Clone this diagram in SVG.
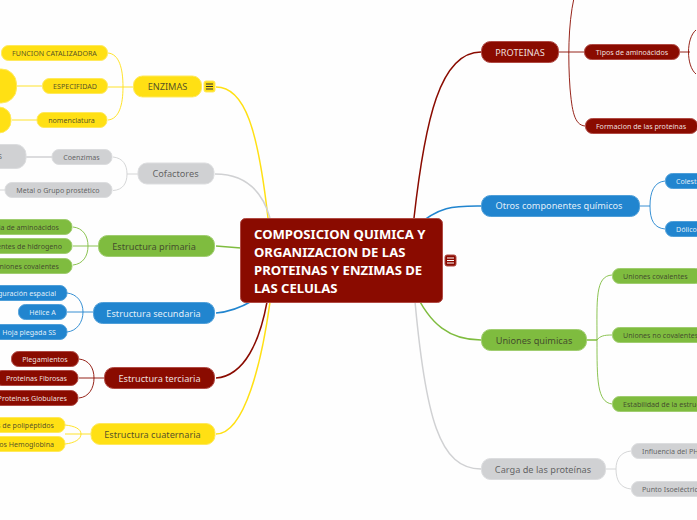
<svg xmlns="http://www.w3.org/2000/svg" width="697" height="520" viewBox="0 0 697 520">
<style>
text{font-family:"Noto Sans","Open Sans",sans-serif;text-anchor:middle}
.m{font-size:9.200px}.s{font-size:7.100px}
.r{fill:#8a0b00;stroke:#b04a44}.b{fill:#2185cf;stroke:#4f9fd9}.g{fill:#7fbc3f;stroke:#a0cd70}.y{fill:#ffe014;stroke:#ffe95c}.k{fill:#d0d1d3;stroke:#dcdddf}
.tw{fill:#fff;fill-opacity:.88}.td{fill:#3a3a2a;fill-opacity:.88}.tg{fill:#555;fill-opacity:.9}
.st{text-anchor:start}.en{text-anchor:end}
.rt{font-size:13.100px;font-weight:700;fill:#fff;text-anchor:start}
.lr,.lb,.lg,.ly,.lk{fill:none}
.lr{stroke:#8a0b00}.lb{stroke:#2185cf}.lg{stroke:#7fbc3f}.ly{stroke:#ffe014}.lk{stroke:#d0d1d3}
.w1{stroke-width:.9}.w2{stroke-width:1.5}
.bar{stroke:#333;stroke-width:1}
</style>
<rect width="697" height="520" fill="#fefefe"/>
<g id="connectors">
<path class="lr w2" d="M414 218C425 120 440 52 481 52"/>
<path class="lb w2" d="M414 228C440 205 455 206 481 206"/>
<path class="lg w2" d="M414 290C430 325 450 340 481 340"/>
<path class="lk w2" d="M414 290C425 420 440 469 481 469"/>
<path class="ly w2" d="M216 87C245 87 258 130 268 218"/>
<path class="lk w2" d="M215 174C245 174 262 190 270 218"/>
<path class="lg w2" d="M216 246L241 248"/>
<path class="lb w2" d="M216 313C228 312 240 308 252 301"/>
<path class="lr w2" d="M216 378C245 376 260 340 267 302"/>
<path class="ly w2" d="M216 434C245 434 262 360 270 302"/>
<path class="lr w1" d="M559 52H585M574 -2C568 25 568 60 570 88C572 110 574 125 585 126"/>
<path class="lr w1" d="M680 52H690M696 30C686 38 686 66 696 74"/>
<path class="lb w1" d="M640 206H650M665 181C654 182 650 192 650 206C650 220 654 228 665 229"/>
<path class="lg w2" d="M587 340H597"/>
<path class="lg w1" d="M612 275C595 276 597 300 597 340C597 380 597 402 612 404M597 340C600 336 604 335 612 335"/>
<path class="lk w1" d="M606 469H616M631 451C620 452 616 460 616 469C616 480 620 488 631 489"/>
<path class="ly w1" d="M108 53C119 54 123 68 123 87C123 105 119 119 108 120M108 87H134"/>
<path class="ly w1" d="M17 86H42M12 120H37"/>
<path class="lk w1" d="M113 157C123 158 127 165 127 174C127 183 123 190 113 190.500M127 174H138"/>
<path class="lk w2" d="M26 157H52"/>
<path class="lk w1" d="M0 190H5"/>
<path class="lg w1" d="M73 227C83 228 88 236 88 246C88 256 83 264 73 265M73 246H98"/>
<path class="lb w1" d="M67 293C77 294 83 302 83 312C83 322 77 331 67 332M67 312H93"/>
<path class="lr w1" d="M79 359C89 360 94 368 94 378C94 388 89 397 79 398M79 378H104"/>
<path class="ly w1" d="M65 425C75 426 81 429 81 434C81 439 75 443 65 444M65 434H91"/>
</g>
<g id="root"><rect class="r" x="240.500" y="218.500" width="202" height="84" rx="5"/>
<text class="rt" x="254" y="239">COMPOSICION QUIMICA Y</text>
<text class="rt" x="254" y="257">ORGANIZACION DE LAS</text>
<text class="rt" x="254" y="275">PROTEINAS Y ENZIMAS DE</text>
<text class="rt" x="254" y="293">LAS CELULAS</text>
<rect class="r" x="445" y="255" width="11" height="11" rx="2"/><path d="M447 258H454M447 260.500H454M447 263H454" stroke="#fff"/></g>
<g id="n-proteinas"><rect class="r" x="481.500" y="41.500" width="77" height="21" rx="9"/><text class="m tw" x="520" y="55.500">PROTEINAS</text></g>
<g id="n-tipos"><rect class="r" x="584.500" y="44.500" width="95" height="15" rx="7"/><text class="s tw" x="632" y="54.800">Tipos de aminoácidos</text></g>
<g id="n-formacion"><rect class="r" x="585.500" y="118.500" width="112" height="15" rx="7"/><text class="s tw" x="641" y="128.800">Formacion de las proteínas</text></g>
<g id="n-otros"><rect class="b" x="481.500" y="195.500" width="158" height="21" rx="9"/><text class="m tw" x="559" y="209">Otros componentes químicos</text></g>
<g id="n-colest"><rect class="b" x="665.500" y="173.500" width="45" height="15" rx="7"/><text class="s tw st" x="676" y="183.800">Colesterol</text></g>
<g id="n-dolicol"><rect class="b" x="665.500" y="221.500" width="45" height="15" rx="7"/><text class="s tw st" x="676" y="231.800">Dólicol</text></g>
<g id="n-uniones"><rect class="g" x="481.500" y="329.500" width="105" height="21" rx="9"/><text class="m td" x="534" y="343.500">Uniones quimicas</text></g>
<g id="n-ucov"><rect class="g" x="612.500" y="268.500" width="90" height="15" rx="7"/><text class="s td st" x="623" y="278.800">Uniones covalentes</text></g>
<g id="n-unocov"><rect class="g" x="612.500" y="327.500" width="100" height="15" rx="7"/><text class="s td st" x="623" y="337.800">Uniones no covalentes</text></g>
<g id="n-estab"><rect class="g" x="612.500" y="396.500" width="100" height="15" rx="7"/><text class="s td st" x="623" y="406.800">Estabilidad de la estructura</text></g>
<g id="n-carga"><rect class="k" x="481.500" y="458.500" width="124" height="21" rx="9"/><text class="m tg" x="543" y="472.500">Carga de las proteínas</text></g>
<g id="n-influ"><rect class="k" x="631.500" y="443.500" width="80" height="15" rx="7"/><text class="s tg st" x="642" y="453.800">Influencia del PH</text></g>
<g id="n-punto"><rect class="k" x="631.500" y="481.500" width="80" height="15" rx="7"/><text class="s tg st" x="642" y="491.800">Punto Isoeléctrico</text></g>
<g id="n-enzimas"><rect class="y" x="133.500" y="76" width="68" height="21" rx="9"/><text class="m td" x="167.500" y="90">ENZIMAS</text>
<rect class="y" x="204" y="81" width="11" height="11" rx="2"/><path class="bar" d="M206 84H213M206 86.500H213M206 89H213"/></g>
<g id="n-func"><rect class="y" x="1.500" y="45.500" width="106" height="15" rx="7"/><text class="s td" x="54.500" y="55.800">FUNCION CATALIZADORA</text></g>
<g id="n-espec"><rect class="y" x="42.500" y="78.500" width="65" height="15" rx="7"/><text class="s td" x="75" y="88.800">ESPECIFIDAD</text></g>
<g id="n-nomen"><rect class="y" x="37" y="112.500" width="70" height="15" rx="7"/><text class="s td" x="71.500" y="122.800">nomenclatura</text></g>
<g id="n-y1"><rect class="y" x="-40" y="69" width="56.500" height="34" rx="15"/></g>
<g id="n-y2"><rect class="y" x="-30" y="107" width="41" height="26" rx="12"/></g>
<g id="n-cof"><rect class="k" x="138" y="163" width="76" height="21" rx="9"/><text class="m tg" x="175.500" y="177">Cofactores</text></g>
<g id="n-coenz"><rect class="k" x="52" y="149.500" width="60" height="15" rx="7"/><text class="s tg" x="81.500" y="159.800">Coenzimas</text></g>
<g id="n-metal"><rect class="k" x="5" y="182.500" width="107" height="15" rx="7"/><text class="s tg" x="58" y="192.800">Metal o Grupo prostético</text></g>
<g id="n-k1"><rect class="k" x="-40" y="144.500" width="66" height="24" rx="10"/><text class="s tg" x="0" y="159">S</text></g>
<g id="n-prim"><rect class="g" x="98.500" y="235.500" width="116" height="21" rx="9"/><text class="m td" x="154" y="250">Estructura primaria</text></g>
<g id="n-p1"><rect class="g" x="-30" y="219.500" width="102" height="15" rx="7"/><text class="s td en" x="59" y="229.800">Secuencia de aminoácidos</text></g>
<g id="n-p2"><rect class="g" x="-30" y="238.500" width="102" height="15" rx="7"/><text class="s td en" x="62" y="248.800">Puentes de hidrogeno</text></g>
<g id="n-p3"><rect class="g" x="-30" y="258.500" width="102" height="15" rx="7"/><text class="s td en" x="59" y="268.800">Uniones covalentes</text></g>
<g id="n-sec"><rect class="b" x="93.500" y="302.500" width="121" height="21" rx="9"/><text class="m tw" x="153.500" y="316.500">Estructura secundaria</text></g>
<g id="n-s1"><rect class="b" x="-30" y="285.500" width="97" height="15" rx="7"/><text class="s tw en" x="56" y="295.800">Configuración espacial</text></g>
<g id="n-s2"><rect class="b" x="18.500" y="304.500" width="48" height="15" rx="7"/><text class="s tw" x="42.500" y="314.800">Hélice A</text></g>
<g id="n-s3"><rect class="b" x="-10" y="324.500" width="77" height="15" rx="7"/><text class="s tw en" x="56" y="334.800">Hoja plegada SS</text></g>
<g id="n-ter"><rect class="r" x="104.500" y="367.500" width="110" height="21" rx="9"/><text class="m tw" x="159.500" y="382">Estructura terciaria</text></g>
<g id="n-t1"><rect class="r" x="11.500" y="351.500" width="67" height="15" rx="7"/><text class="s tw" x="45" y="361.800">Plegamientos</text></g>
<g id="n-t2"><rect class="r" x="-5" y="370.500" width="83" height="15" rx="7"/><text class="s tw en" x="67" y="380.800">Proteinas Fibrosas</text></g>
<g id="n-t3"><rect class="r" x="-15" y="390.500" width="93" height="15" rx="7"/><text class="s tw en" x="67" y="400.800">Proteinas Globulares</text></g>
<g id="n-cua"><rect class="y" x="91" y="423.500" width="124" height="21" rx="9"/><text class="m td" x="152.500" y="438">Estructura cuaternaria</text></g>
<g id="n-c1"><rect class="y" x="-30" y="417.500" width="95" height="15" rx="7"/><text class="s td en" x="54" y="427.800">Cadenas de polipéptidos</text></g>
<g id="n-c2"><rect class="y" x="-30" y="436.500" width="95" height="15" rx="7"/><text class="s td en" x="54" y="446.800">Tetrámeros Hemoglobina</text></g>
</svg>
